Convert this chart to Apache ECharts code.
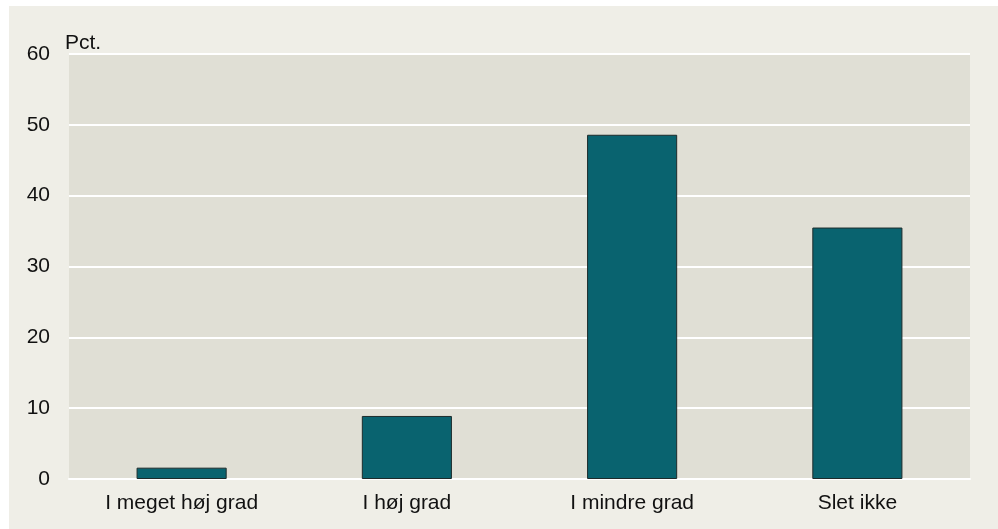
<!DOCTYPE html>
<html><head><meta charset="utf-8">
<script src="https://cdn.jsdelivr.net/npm/echarts@6/dist/echarts.min.js"></script>
<style>html,body{margin:0;padding:0;background:#fff}#c{width:998px;height:529px}</style>
</head><body><div id="c"></div>
<script>
const categories = ['I meget høj grad', 'I høj grad', 'I mindre grad', 'Slet ikke'];
const values = [1.6, 8.9, 48.6, 35.5];
const yTicks = { min: 0, max: 60, interval: 10 };
const unitLabel = 'Pct.';

const chart = echarts.init(document.getElementById('c'), null, { renderer: 'canvas' });
const font = 'Liberation Sans, Arial, sans-serif';
chart.setOption({
  animation: false,
  backgroundColor: '#ffffff',
  graphic: [
    { type: 'rect', z: -10, shape: { x: 9, y: 6, width: 989, height: 523 }, style: { fill: '#EFEEE7' } },
    { type: 'text', left: 65, top: 33, style: { text: unitLabel, font: '21px ' + font, fill: '#111' } }
  ],
  grid: { left: 69, right: 28, top: 54, bottom: 50, show: true, backgroundColor: '#E0DFD5', borderWidth: 0 },
  xAxis: {
    type: 'category', data: categories,
    axisLine: { show: true, lineStyle: { color: '#ffffff', width: 2 } },
    axisTick: { show: false },
    axisLabel: { color: '#111', fontSize: 21, fontFamily: font, margin: 14 },
    splitLine: { show: false }
  },
  yAxis: {
    type: 'value', min: yTicks.min, max: yTicks.max, interval: yTicks.interval,
    axisLine: { show: false }, axisTick: { show: false },
    axisLabel: { color: '#111', fontSize: 21, fontFamily: font, margin: 19 },
    splitLine: { lineStyle: { color: '#ffffff', width: 2 } }
  },
  series: [{
    type: 'bar', data: values, barWidth: '40%',
    itemStyle: { color: '#09636F', borderColor: '#1d2b2b', borderWidth: 1 }
  }]
});
</script></body></html>
